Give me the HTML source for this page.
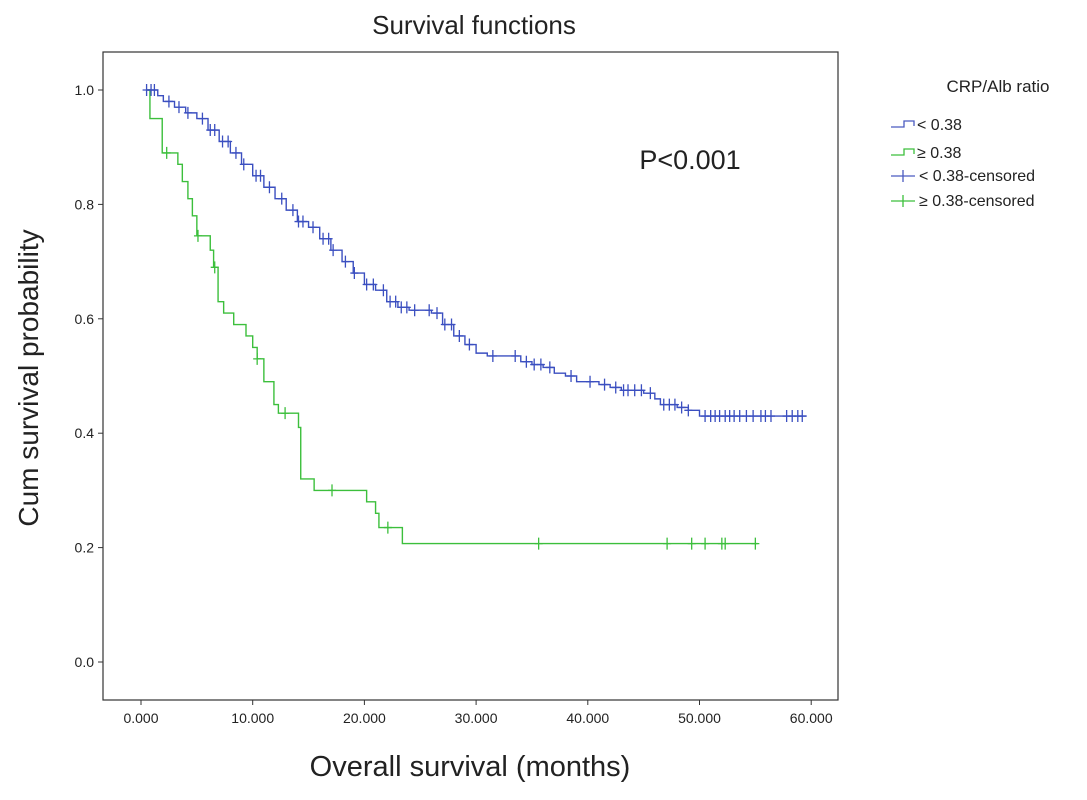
<!DOCTYPE html>
<html><head><meta charset="utf-8"><style>
body{margin:0;background:#fff;font-family:"Liberation Sans",Arial,sans-serif}
svg text{font-family:"Liberation Sans",Arial,sans-serif;fill:#222}
</style></head><body>
<svg id="chart" width="1087" height="795">
<rect x="0" y="0" width="1087" height="795" fill="#fff"/>
<text x="474" y="34" font-size="26" text-anchor="middle">Survival functions</text>
<rect x="103" y="52" width="735" height="648" fill="none" stroke="#333" stroke-width="1.2"/>
<g id="yaxis"></g>
<g id="xaxis"></g>
<g id="series"></g>
<text x="690" y="169" font-size="27" text-anchor="middle">P&lt;0.001</text>
<text transform="translate(38,378) rotate(-90)" font-size="28" text-anchor="middle">Cum survival probability</text>
<text x="470" y="776" font-size="29" text-anchor="middle">Overall survival (months)</text>
<g>
<text x="998" y="92" font-size="17" text-anchor="middle">CRP/Alb ratio</text>
<g><path d="M891 127 H904 V121 H914 V126" fill="none" stroke="#4a5bc0" stroke-width="1.3"/><text x="917" y="130" font-size="16">&lt; 0.38</text></g>
<g><path d="M891 155 H904 V149 H914 V154" fill="none" stroke="#3cbf3c" stroke-width="1.3"/><text x="917" y="158" font-size="16">≥ 0.38</text></g>
<g><path d="M891 176 H915 M903 170 V182" fill="none" stroke="#4a5bc0" stroke-width="1.3"/><text x="919" y="181" font-size="16">&lt; 0.38-censored</text></g>
<g><path d="M891 201 H915 M903 195 V207" fill="none" stroke="#3cbf3c" stroke-width="1.3"/><text x="919" y="206" font-size="16">≥ 0.38-censored</text></g>
</g>
</svg>
<script>
const yTicks=[0,0.2,0.4,0.6,0.8,1.0];
const xTicks=[0,10,20,30,40,50,60];
const lowTimes=[0.6,1.5,2,3,4,5,6,7,8,9,10,11,12,13,14,15,16,17,18,19,20,21,22,23,24,26,27,28,29,30,31,34,35,36,37,38,39,41,42,43,45,46,46.5,48,49,50];
const lowSurv=[1.0,0.99,0.98,0.97,0.96,0.95,0.93,0.91,0.89,0.87,0.85,0.83,0.81,0.79,0.77,0.76,0.74,0.72,0.70,0.68,0.66,0.65,0.63,0.62,0.615,0.61,0.59,0.57,0.555,0.54,0.535,0.525,0.52,0.515,0.505,0.5,0.49,0.485,0.48,0.475,0.47,0.46,0.45,0.445,0.44,0.43];
const lowEnd=59.6;
const lowCensored=[0.5,0.9,1.2,2.5,3.4,4.2,5.5,6.2,6.6,7.3,7.8,8.5,9.2,10.3,10.7,11.5,12.6,13.6,14.1,14.5,15.4,16.3,16.8,17.2,18.3,19.1,20.2,20.8,21.7,22.3,22.8,23.3,23.8,24.5,25.8,26.5,27.2,27.8,28.5,29.4,31.5,33.5,34.5,35.2,35.8,36.6,38.5,40.2,41.5,42.5,43.2,43.6,44.2,44.8,45.6,46.8,47.3,47.8,48.4,49,50.5,51,51.4,51.8,52.3,52.7,53.1,53.6,54.2,54.8,55.5,55.9,56.4,57.8,58.3,58.8,59.2];
const highTimes=[0.5,0.8,1.9,3.3,3.7,4.2,4.6,5.0,6.2,6.5,6.9,7.4,8.3,9.4,10.0,10.4,11.0,11.9,12.3,14.1,14.3,15.5,20.2,21.0,21.3,23.4];
const highSurv=[1.0,0.95,0.89,0.87,0.84,0.81,0.78,0.745,0.72,0.69,0.63,0.61,0.59,0.57,0.55,0.53,0.49,0.45,0.435,0.41,0.32,0.30,0.28,0.26,0.235,0.207];
const highEnd=55.2;
const highCensored=[2.3,5.1,6.6,10.4,12.9,17.1,22.1,35.6,47.1,49.3,50.5,52.0,52.3,55.0];
const X=t=>141+t*11.17, Y=s=>662-s*572;
const NS='http://www.w3.org/2000/svg';
function mk(tag,attrs,parent){const e=document.createElementNS(NS,tag);for(const k in attrs)e.setAttribute(k,attrs[k]);parent.appendChild(e);return e;}
const ya=document.getElementById('yaxis'),xa=document.getElementById('xaxis'),sg=document.getElementById('series');
yTicks.forEach(v=>{const l=mk('line',{x1:98,x2:103,y1:Y(v),y2:Y(v),stroke:'#333'},ya);


const t=mk('text',{x:94,y:Y(v)+5,'font-size':14,'text-anchor':'end'},ya);t.textContent=v.toFixed(1);

});
xTicks.forEach(v=>{const l=mk('line',{x1:X(v),x2:X(v),y1:700,y2:705,stroke:'#333'},xa);


const t=mk('text',{x:X(v),y:723,'font-size':14,'text-anchor':'middle'},xa);t.textContent=v.toFixed(3);

});
function stepAt(times,surv,t){let s=surv[0];for(let i=0;i<times.length;i++){if(times[i]<=t)s=surv[i];}return s;}
function draw(times,surv,end,cens,color,name){
let d='M'+X(times[0])+' '+Y(surv[0]);
for(let i=1;i<times.length;i++){d+=' H'+X(times[i])+' V'+Y(surv[i]);}
d+=' H'+X(end);
const p=mk('path',{d:d,fill:'none',stroke:color,'stroke-width':1.4},sg);


cens.forEach(t=>{const x=X(t),y=Y(stepAt(times,surv,t));
const c=mk('path',{d:`M${x-4} ${y} H${x+4} M${x} ${y-6} V${y+6}`,stroke:color,'stroke-width':1.3,fill:'none'},sg);

});}
draw(highTimes,highSurv,highEnd,highCensored,'#3cbf3c','high-ratio');
draw(lowTimes,lowSurv,lowEnd,lowCensored,'#3b4fc0','low-ratio');
</script>
</body></html>
